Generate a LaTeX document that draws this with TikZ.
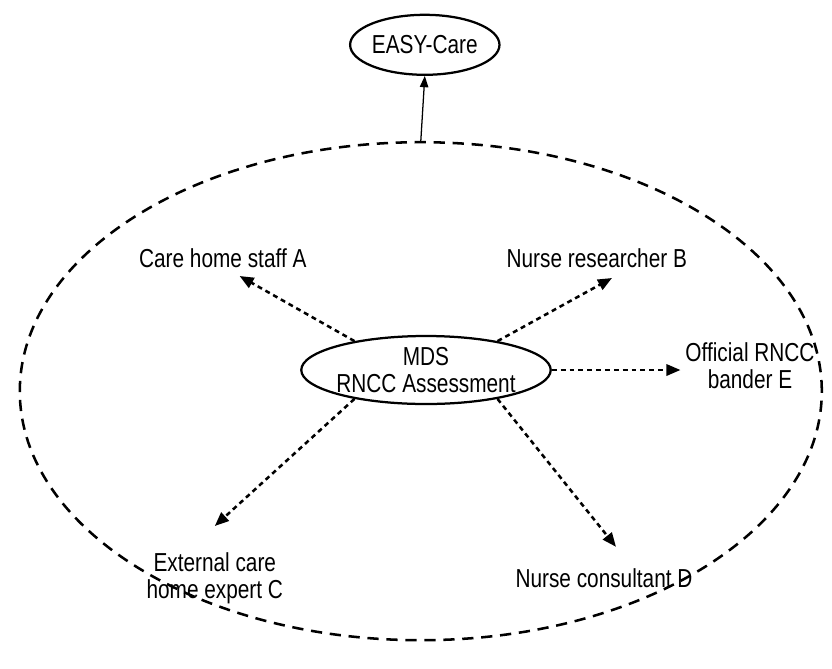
\documentclass[tikz,border=0pt]{standalone}
\usepackage{fontspec}
\setmainfont{Liberation Sans}[FakeStretch=0.8]
\usetikzlibrary{shapes.geometric,arrows.meta}

\begin{document}
\begin{tikzpicture}[
    every node/.style={font=\fontsize{18.5}{19}\selectfont, align=center},
    oval/.style={draw, ellipse, line width=1.6pt, inner sep=0pt},
    flow/.style={-{Triangle[length=10pt,width=8pt]}, line width=1.8pt, dash pattern=on 3.5pt off 2.8pt}
]
    \useasboundingbox (0,0) rectangle (20.8,-16.7);

    % Outer dashed boundary
    \node[draw, ellipse, line width=1.8pt, dash pattern=on 8pt off 5.5pt,
          minimum width=20.05cm, minimum height=12.45cm] (group) at (10.52,-9.78) {};

    % Assessment tools
    \node[oval, minimum width=3.62cm, minimum height=1.5cm] (easy) at (10.62,-1.12) {EASY-Care};
    \node[oval, inner xsep=-1pt, minimum width=5.55cm, minimum height=1.7cm] (mds) at (10.65,-9.25) {MDS\\RNCC Assessment};

    % Assessors
    \node (staffA) at (5.57,-6.45) {Care home staff A};
    \node (researcherB) at (14.92,-6.45) {Nurse researcher B};
    \node (banderE) at (18.75,-9.15) {Official RNCC\\bander E};
    \node (expertC) at (5.37,-14.45) {External care\\home expert C};
    \node (consultantD) at (15.1,-14.45) {Nurse consultant D};

    % Link to EASY-Care
    \draw[-{Triangle[length=8pt,width=6pt]}, line width=0.9pt] (group.north) -- (easy.south);

    % Dotted arrows from the MDS assessment
    \draw[flow] (mds.158) -- ([shift={(0.42,-0.45)}]staffA.center);
    \draw[flow] (mds.22) -- ([shift={(0.38,-0.5)}]researcherB.center);
    \draw[flow] (mds.east) -- (mds.east -| banderE.west);
    \draw[flow] (mds.202) -- ([shift={(0.0,1.3)}]expertC.center);
    \draw[flow] (mds.338) -- ([shift={(0.3,0.78)}]consultantD.center);
\end{tikzpicture}
\end{document}
